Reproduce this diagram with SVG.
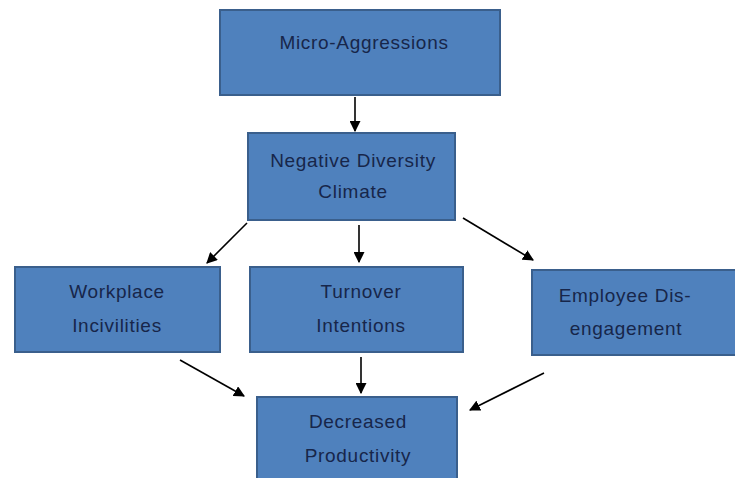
<svg xmlns="http://www.w3.org/2000/svg" width="735" height="478" viewBox="0 0 735 478">
<style>
.box{fill:#4f81bd;stroke:#3a5f8c;stroke-width:2}
.t{font-family:"Liberation Sans",Arial,sans-serif;font-size:19px;letter-spacing:0.7px;fill:#17264a;text-anchor:middle}
.c{stroke:#000;stroke-width:1.6;fill:none;marker-end:url(#ah)}
</style>
<defs>
<marker id="ah" viewBox="0 0 10 10" refX="9" refY="5" markerWidth="11" markerHeight="11" markerUnits="userSpaceOnUse" orient="auto">
<path d="M0,0 L10,5 L0,10 z" fill="#000"/>
</marker>
</defs>
<rect width="735" height="478" fill="#fff"/>
<g id="connectors">
<line class="c" x1="355" y1="97" x2="355" y2="131"/>
<line class="c" x1="247" y1="223" x2="207" y2="263"/>
<line class="c" x1="359" y1="225" x2="359" y2="262"/>
<line class="c" x1="463" y1="218" x2="533" y2="260"/>
<line class="c" x1="180" y1="360" x2="244" y2="396"/>
<line class="c" x1="361" y1="357" x2="361" y2="393"/>
<line class="c" x1="544" y1="373" x2="470" y2="410"/>
</g>
<g id="micro">
<rect class="box" x="220" y="10" width="280" height="85"/>
<text class="t" x="364" y="49">Micro-Aggressions</text>
</g>
<g id="ndc">
<rect class="box" x="248" y="133" width="207" height="87"/>
<text class="t" x="353" y="167">Negative Diversity</text>
<text class="t" x="353" y="198">Climate</text>
</g>
<g id="workplace">
<rect class="box" x="15" y="267" width="205" height="85"/>
<text class="t" x="117" y="298">Workplace</text>
<text class="t" x="117" y="332">Incivilities</text>
</g>
<g id="turnover">
<rect class="box" x="250" y="267" width="213" height="85"/>
<text class="t" x="361" y="298">Turnover</text>
<text class="t" x="361" y="332">Intentions</text>
</g>
<g id="employee">
<rect class="box" x="532" y="270" width="210" height="85"/>
<text class="t" x="625" y="302">Employee Dis-</text>
<text class="t" x="626" y="335">engagement</text>
</g>
<g id="decreased">
<rect class="box" x="257" y="397" width="200" height="90"/>
<text class="t" x="358" y="428">Decreased</text>
<text class="t" x="358" y="462">Productivity</text>
</g>
</svg>
